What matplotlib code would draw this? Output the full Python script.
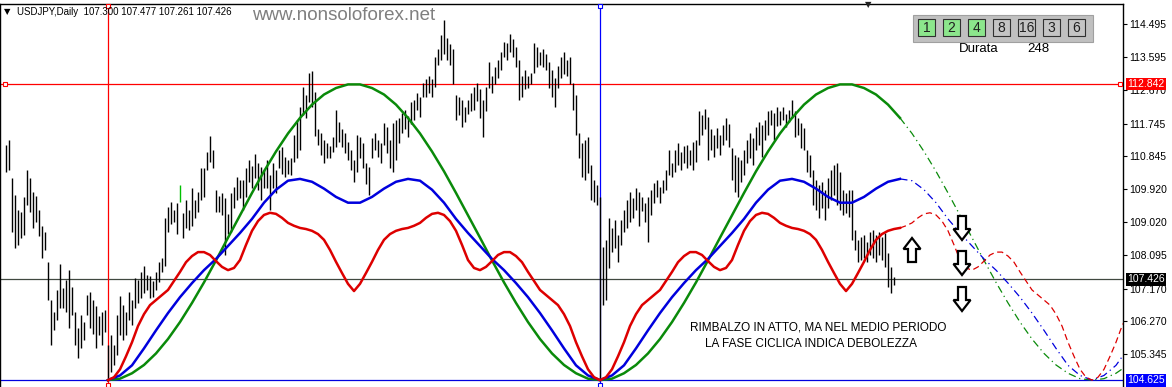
import numpy as np
import matplotlib
matplotlib.use("Agg")
import matplotlib.pyplot as plt
from matplotlib.patches import Rectangle, Polygon
from matplotlib.transforms import blended_transform_factory

# daily bars (high / low), one per trading day
bar_high = [
    111.16, 111.30, 110.24, 109.77, 109.35, 109.29, 109.71, 110.46, 110.24, 109.85,
    109.74, 109.35, 108.91, 108.74, 107.90, 106.85, 106.51, 107.13, 107.85, 107.18,
    107.40, 107.68, 107.21, 106.51, 106.07, 106.43, 106.24, 106.99, 107.07, 106.85,
    106.68, 106.40, 106.51, 106.57, 105.60, 105.87, 105.60, 106.43, 106.96, 106.71,
    106.51, 107.07, 106.85, 107.46, 107.40, 107.63, 107.79, 107.54, 107.52, 107.38,
    107.63, 107.90, 108.01, 109.13, 109.43, 109.57, 109.35, 109.55, 110.05, 109.27,
    109.63, 109.35, 109.96, 109.63, 109.85, 110.52, 110.52, 110.96, 111.41, 111.02,
    109.91, 109.74, 109.82, 109.68, 109.24, 109.82, 109.99, 110.27, 110.18, 110.18,
    110.52, 110.74, 110.57, 110.91, 110.66, 110.55, 110.46, 110.74, 110.32, 110.66,
    110.46, 111.02, 111.10, 110.82, 110.74, 110.80, 111.44, 111.85, 112.19, 112.77,
    112.55, 113.16, 113.19, 112.63, 111.58, 111.49, 111.30, 111.21, 111.13, 111.38,
    112.13, 111.80, 111.58, 111.49, 111.24, 111.02, 110.74, 111.44, 111.38, 111.21,
    110.66, 110.55, 111.35, 111.49, 111.30, 111.21, 111.77, 111.66, 111.30, 111.77,
    111.85, 111.91, 112.05, 112.13, 111.96, 112.35, 112.41, 112.60, 112.49, 112.88,
    112.97, 113.05, 112.97, 113.60, 113.80, 114.19, 114.63, 114.13, 113.94, 113.80,
    112.55, 112.49, 112.41, 112.19, 112.41, 112.60, 112.77, 112.88, 112.69, 112.41,
    112.77, 113.44, 113.05, 113.30, 113.52, 113.74, 114.02, 113.99, 114.22, 114.08,
    113.86, 113.52, 113.05, 113.24, 113.05, 113.16, 113.99, 113.88, 113.72, 113.80,
    113.66, 113.44, 113.24, 113.02, 113.33, 113.58, 113.72, 113.52, 113.60, 112.88,
    112.55, 111.49, 111.21, 111.30, 111.38, 110.60, 110.18, 110.05, 109.71, 108.32,
    108.52, 109.13, 108.85, 109.07, 108.65, 109.07, 109.35, 109.63, 109.85, 109.68,
    109.96, 109.85, 109.71, 109.55, 109.71, 109.91, 110.10, 110.18, 109.99, 110.18,
    110.46, 111.02, 110.66, 111.02, 111.21, 110.96, 111.13, 111.16, 111.02, 111.24,
    111.30, 112.08, 111.99, 112.16, 111.94, 111.58, 111.44, 111.63, 111.44, 111.71,
    111.91, 111.74, 111.07, 110.88, 110.82, 110.74, 111.02, 111.30, 111.49, 111.35,
    111.66, 111.80, 111.71, 111.85, 112.08, 112.13, 112.05, 112.19, 112.08, 112.19,
    112.02, 112.13, 112.41, 112.08, 111.91, 111.77, 111.63, 111.02, 110.88, 110.46,
    110.18, 110.05, 110.13, 109.91, 110.24, 110.46, 110.60, 110.66, 110.41, 109.91,
    109.82, 109.91, 109.91, 108.79, 108.52, 108.60, 108.65, 108.46, 108.74, 108.79,
    108.65, 108.74, 108.60, 108.71, 108.15, 107.77, 107.48,
]
bar_low = [
    110.41, 110.46, 108.74, 108.29, 108.38, 108.57, 108.65, 109.49, 109.29, 108.85,
    109.02, 108.63, 108.01, 108.24, 106.85, 105.60, 106.01, 106.29, 106.63, 106.63,
    106.51, 106.07, 106.43, 105.60, 105.23, 105.51, 105.74, 106.43, 106.07, 105.90,
    105.51, 105.87, 105.60, 105.96, 104.63, 104.85, 105.04, 105.32, 105.87, 105.74,
    105.87, 106.29, 106.15, 106.63, 106.76, 106.90, 107.04, 107.13, 106.90, 106.93,
    107.13, 107.35, 107.63, 107.79, 108.74, 108.96, 109.02, 108.68, 109.57, 108.57,
    108.85, 108.79, 108.91, 109.13, 109.29, 109.63, 109.71, 110.46, 110.69, 110.52,
    109.29, 109.29, 109.21, 108.10, 108.68, 108.74, 109.41, 109.63, 109.68, 109.35,
    109.71, 110.13, 109.96, 110.24, 109.91, 109.63, 109.96, 109.96, 109.35, 109.96,
    109.82, 110.52, 110.35, 110.27, 110.35, 110.32, 110.69, 110.80, 111.02, 111.99,
    111.91, 112.35, 112.19, 111.41, 111.16, 110.88, 110.66, 110.80, 110.80, 110.96,
    111.10, 111.24, 111.10, 110.94, 110.74, 110.46, 110.13, 110.41, 110.80, 110.52,
    110.07, 109.77, 110.80, 111.02, 110.82, 110.66, 111.16, 110.94, 110.52, 110.41,
    110.74, 111.21, 111.49, 111.58, 111.38, 111.74, 111.85, 112.13, 111.94, 112.47,
    112.49, 112.60, 112.49, 112.77, 113.38, 113.52, 113.66, 113.52, 113.38, 112.83,
    111.85, 111.99, 111.66, 111.80, 112.02, 112.08, 112.13, 112.38, 111.91, 111.38,
    112.10, 112.74, 112.58, 112.85, 113.02, 113.24, 113.58, 113.52, 113.72, 113.60,
    113.30, 112.41, 112.49, 112.69, 112.74, 112.85, 113.16, 113.30, 113.38, 113.30,
    113.24, 112.74, 112.49, 112.21, 112.74, 113.02, 113.13, 113.05, 112.85, 112.13,
    111.44, 110.80, 110.27, 110.18, 110.38, 109.63, 109.57, 109.49, 104.63, 106.71,
    106.85, 107.74, 108.18, 108.29, 107.90, 108.38, 108.74, 108.85, 109.02, 109.13,
    109.35, 108.91, 109.32, 109.02, 108.46, 109.21, 109.55, 109.71, 109.55, 109.82,
    109.91, 110.32, 110.27, 110.41, 110.60, 110.46, 110.66, 110.52, 110.60, 110.46,
    110.69, 111.16, 111.44, 111.58, 110.74, 111.02, 110.82, 111.07, 110.88, 111.16,
    111.30, 111.10, 110.18, 109.85, 109.71, 110.13, 110.32, 110.66, 110.80, 110.60,
    111.02, 111.16, 110.82, 111.30, 111.44, 111.71, 111.30, 111.69, 111.71, 111.85,
    111.66, 111.80, 111.91, 111.38, 111.44, 111.07, 111.02, 110.41, 110.27, 109.49,
    109.35, 109.13, 109.41, 109.07, 109.41, 109.63, 109.77, 109.49, 109.35, 109.21,
    109.27, 109.16, 108.52, 108.24, 107.90, 107.96, 108.01, 107.90, 108.10, 108.01,
    107.90, 108.10, 107.96, 107.77, 107.21, 107.04, 107.26,
]
highlight_bar = 58

# cycle indicator: one full cycle of each component sum
cycle_start = 34
cycle_len = 164
last_bar = 296
green_cycle = [  # every 4 bars
    104.63, 104.67, 104.82, 105.05, 105.37, 105.77, 106.24, 106.77, 107.34, 107.95,
    108.58, 109.20, 109.82, 110.42, 110.97, 111.47, 111.90, 112.27, 112.55, 112.73,
    112.83, 112.83, 112.73, 112.55, 112.27, 111.90, 111.47, 110.97, 110.42, 109.82,
    109.20, 108.58, 107.95, 107.34, 106.77, 106.24, 105.77, 105.37, 105.05, 104.82,
    104.67, 104.63,
]
blue_cycle = [  # every 4 bars
    104.63, 104.76, 105.04, 105.51, 106.01, 106.49, 106.93, 107.32, 107.68, 107.99,
    108.35, 108.71, 109.10, 109.55, 109.91, 110.16, 110.21, 110.13, 109.94, 109.71,
    109.55, 109.55, 109.71, 109.94, 110.13, 110.21, 110.16, 109.91, 109.55, 109.10,
    108.71, 108.35, 107.99, 107.68, 107.32, 106.93, 106.49, 106.01, 105.51, 105.04,
    104.76, 104.63,
]
red_cycle = [  # every 2 bars
    104.63, 104.71, 104.93, 105.29, 105.68, 106.13, 106.46, 106.71, 106.85, 106.99,
    107.13, 107.38, 107.63, 107.90, 108.07, 108.18, 108.18, 108.10, 107.93, 107.77,
    107.68, 107.74, 107.96, 108.38, 108.77, 109.04, 109.21, 109.27, 109.24, 109.13,
    108.99, 108.91, 108.85, 108.82, 108.77, 108.68, 108.52, 108.24, 107.91, 107.60,
    107.30, 107.10, 107.30, 107.60, 107.91, 108.24, 108.52, 108.68, 108.77, 108.82,
    108.85, 108.91, 108.99, 109.13, 109.24, 109.27, 109.21, 109.04, 108.77, 108.38,
    107.96, 107.74, 107.68, 107.77, 107.93, 108.10, 108.18, 108.18, 108.07, 107.90,
    107.63, 107.38, 107.13, 106.99, 106.85, 106.71, 106.46, 106.13, 105.68, 105.29,
    104.93, 104.71, 104.63,
]

level_high = 112.842
level_last = 107.426
level_low = 104.625
price_ticks = [114.495, 113.595, 112.670, 111.745, 110.845, 109.920,
               109.020, 108.095, 107.170, 106.270, 105.345]
buttons = ["1", "2", "4", "8", "16", "3", "6"]
buttons_on = [True, True, True, False, False, False, False]
durata = 248
header = "USDJPY,Daily  107.300 107.477 107.261 107.426"
note_lines = ["RIMBALZO IN ATTO, MA NEL MEDIO PERIODO",
              "LA FASE CICLICA INDICA DEBOLEZZA"]

W, H = 1172, 387
fig = plt.figure(figsize=(W / 100, H / 100), dpi=100)
ax = fig.add_axes([0, 0, 1123 / W, 383.5 / H])
ax.set_xlim(-2, 372.33)
ax.set_ylim(104.439, 115.074)


def fxy(px, py):
    return px / W, 1 - py / H


def cycle_curve(vals, n_cycles=3):
    vals = np.asarray(vals)
    step = cycle_len / (len(vals) - 1)
    xs, ys = [], []
    for c in range(n_cycles):
        x = cycle_start + c * cycle_len + np.arange(len(vals)) * step
        v = vals
        if c > 0:
            x, v = x[1:], v[1:]
        xs.append(x)
        ys.append(v)
    return np.concatenate(xs), np.concatenate(ys)


def block_arrow(cx, cy, up=True):
    # hollow block arrow, offsets in pixels (y downwards)
    shape = [(0, -12), (8.5, -1), (4, -1), (4, 12), (-4, 12), (-4, -1), (-8.5, -1)]
    sgn = 1 if up else -1
    pts = [fxy(cx + dx, cy + sgn * dy) for dx, dy in shape]
    fig.patches.append(Polygon(pts, closed=True, transform=fig.transFigure,
                               fc="white", ec="black", lw=1.6, joinstyle="miter"))


# horizontal / vertical levels
ax.axhline(level_high, color="#FF0000", lw=0.9, zorder=1)
ax.axhline(level_last, color="#404840", lw=0.9, zorder=1)
ax.axhline(level_low, color="#0000E0", lw=0.9, zorder=1)
ax.axvline(cycle_start, color="#FF0000", lw=0.9, zorder=1)
ax.axvline(cycle_start + cycle_len, color="#0000FF", lw=0.9, zorder=1)

bt = blended_transform_factory(ax.transAxes, ax.transData)
ax.plot([0.0045, 0.9973], [level_high] * 2, ls="none", marker="s", ms=3.5,
        mfc="white", mec="#FF0000", mew=0.8, transform=bt, clip_on=False, zorder=4)
vt = blended_transform_factory(ax.transData, ax.transAxes)
ax.plot([cycle_start] * 2, [0.9935, 0.006], ls="none", marker="s", ms=3.5,
        mfc="white", mec="#FF0000", mew=0.8, transform=vt, clip_on=False, zorder=4)
ax.plot([cycle_start + cycle_len] * 2, [0.9935, 0.006], ls="none", marker="s", ms=3.5,
        mfc="white", mec="#0000FF", mew=0.8, transform=vt, clip_on=False, zorder=4)

# price bars
bars = np.arange(len(bar_high))
colors = ["#00C000" if i == highlight_bar else "black" for i in bars]
ax.vlines(bars, bar_low, bar_high, colors=colors, lw=1.0, zorder=2)

# cycle curves: solid up to the last bar, projected afterwards
for vals, color, dash in [(green_cycle, "#0A8A0A", (0, (6, 3, 1, 3))),
                          (blue_cycle, "#0000DD", (0, (6, 3, 1, 3))),
                          (red_cycle, "#DD0000", (0, (5, 3)))]:
    x, y = cycle_curve(vals)
    solid = x <= last_bar + 2
    ax.plot(x[solid], y[solid], color=color, lw=1.8, zorder=3)
    k = np.count_nonzero(solid) - 1
    ax.plot(x[k:], y[k:], color=color, lw=0.9, ls=dash, zorder=3)

# axes look
for s in ["left", "top", "right"]:
    ax.spines[s].set_color("black")
    ax.spines[s].set_linewidth(1.0)
ax.spines["bottom"].set_visible(False)
ax.set_xticks([])
ax.yaxis.tick_right()
ax.set_yticks(price_ticks)
ax.set_yticklabels([f"{t:.3f}" for t in price_ticks])
ax.tick_params(axis="y", direction="out", length=3, width=0.8, pad=1.5,
               labelsize=7.5, labelfontfamily="Liberation Sans")

for val, face in [(level_high, "#FF0000"), (level_last, "black"), (level_low, "#0000FF")]:
    ax.annotate(f"{val:.3f}", xy=(1.0, val), xycoords=bt, xytext=(3, 0),
                textcoords="offset points", ha="left", va="center", color="white",
                fontsize=7.5, family="Liberation Sans", annotation_clip=False,
                bbox=dict(boxstyle="square,pad=0.12", fc=face, ec="none"), zorder=6)

# header and watermark
fig.text(*fxy(4, 12), "\u25bc", fontsize=6, va="center", ha="left", color="black")
fig.text(*fxy(17, 12), header, fontsize=7, family="Liberation Sans",
         va="center", ha="left", color="black")
fig.text(*fxy(252, 16), "www.nonsoloforex.net", fontsize=13.5, family="Liberation Sans",
         va="center", ha="left", color="#7F7F7F")
fig.text(*fxy(868, 5), "\u25bc", fontsize=6, va="center", ha="center", color="#202020")

# cycle selector panel
fig.patches.append(Rectangle(fxy(913, 42), 180 / W, 27 / H, transform=fig.transFigure,
                             fc="#C0C0C0", ec="#A0A0A0", lw=0.8))
for k, (lab, on) in enumerate(zip(buttons, buttons_on)):
    x0 = 918 + 25 * k
    fig.patches.append(Rectangle(fxy(x0, 36), 17 / W, 17 / H, transform=fig.transFigure,
                                 fc="#8CE68C" if on else "#C4C4C4", ec="#303030", lw=0.8))
    fig.text(*fxy(x0 + 8.5, 27.5), lab, fontsize=10, family="Liberation Sans",
             ha="center", va="center", color="#202020")
fig.text(*fxy(979, 49), "Durata", fontsize=9.5, family="Liberation Sans",
         ha="center", va="center", color="black")
fig.text(*fxy(1038, 49), str(durata), fontsize=9.5, family="Liberation Sans",
         ha="center", va="center", color="black")

# arrows and comment
block_arrow(912, 250, up=True)
for py in [228, 263, 299]:
    block_arrow(962, py, up=False)
fig.text(*fxy(818, 328), note_lines[0], fontsize=8.5, family="Liberation Sans",
         ha="center", va="center", color="black")
fig.text(*fxy(811, 344), note_lines[1], fontsize=8.5, family="Liberation Sans",
         ha="center", va="center", color="black")

fig.savefig("out.png", dpi=100, facecolor="white")
